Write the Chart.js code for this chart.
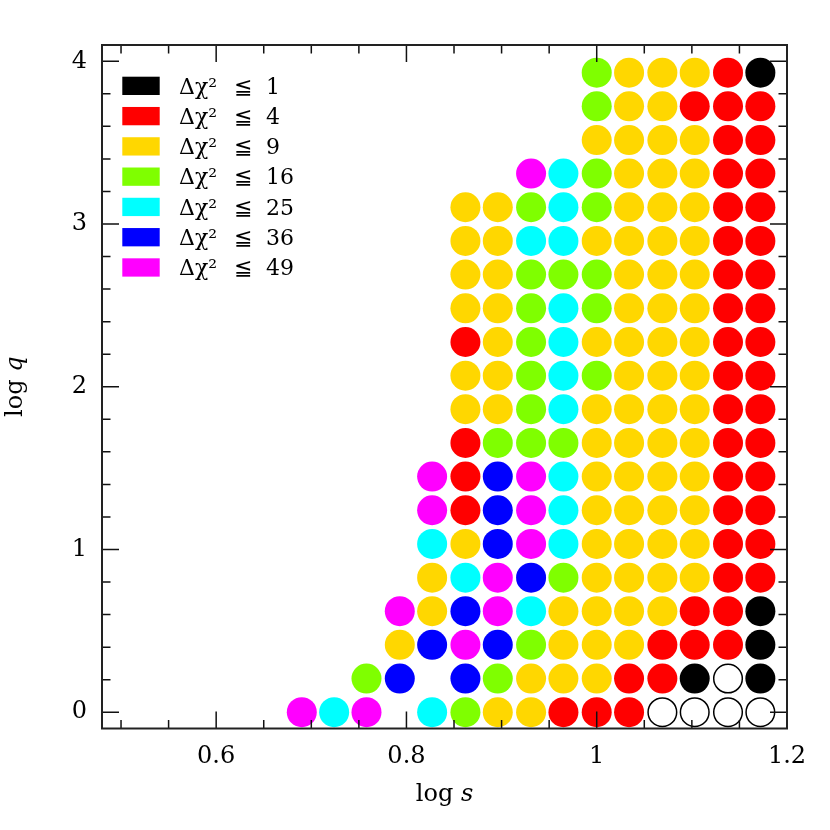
<!DOCTYPE html>
<html><head><meta charset="utf-8">
<script src="https://cdn.jsdelivr.net/npm/chart.js@4.4.1/dist/chart.umd.min.js"></script>
<style>html,body{margin:0;padding:0;background:#fff}canvas{display:block}</style>
</head><body>
<canvas id="c" width="830" height="830"></canvas>
<script>
// grid coordinates
const logS = [0.690, 0.724, 0.758, 0.793, 0.827, 0.862, 0.896, 0.931, 0.965, 1.000, 1.034, 1.069, 1.103, 1.138, 1.172];
const logQ = [0.000, 0.207, 0.414, 0.621, 0.827, 1.034, 1.241, 1.448, 1.655, 1.862, 2.068, 2.275, 2.482, 2.689, 2.896, 3.103, 3.310, 3.516, 3.723, 3.930];
// level code per cell, row 0 = lowest log q; K<=1 R<=4 Y<=9 G<=16 C<=25 B<=36 M<=49 O=open, '.'=none
const gridRows = [
  "MCM.CGYYRRROOOO",
  "..GB.BGYYYRRKOK",
  "...YBMBGYYYRRRK",
  "...MYBMCYYYYRRK",
  "....YCMBGYYYYRR",
  "....CYBMCYYYYRR",
  "....MRBMCYYYYRR",
  "....MRBMCYYYYRR",
  ".....RGGGYYYYRR",
  ".....YYGCYYYYRR",
  ".....YYGCGYYYRR",
  ".....RYGCYYYYRR",
  ".....YYGCGYYYRR",
  ".....YYGGGYYYRR",
  ".....YYCCYYYYRR",
  ".....YYGCGYYYRR",
  ".......MCGYYYRR",
  ".........YYYYRR",
  ".........GYYRRR",
  ".........GYYYRK"
];
const levelCodes  = ['K', 'R', 'Y', 'G', 'C', 'B', 'M', 'O'];
const levelLabels = ['1', '4', '9', '16', '25', '36', '49', ''];
const levelColors = ['#000000', '#ff0000', '#ffd700', '#7fff00', '#00ffff', '#0000ff', '#ff00ff', '#ffffff'];
const xTickValues = [0.6, 0.8, 1.0, 1.2];
const xTickLabels = ['0.6', '0.8', '1', '1.2'];
const yTickValues = [0, 1, 2, 3, 4];
const yTickLabels = ['0', '1', '2', '3', '4'];

const SERIF = '"DejaVu Serif", "Liberation Serif", serif';

const datasets = levelCodes.map((code, k) => {
  const pts = [];
  gridRows.forEach((row, r) => {
    for (let c = 0; c < row.length; c++) {
      if (row[c] === code) pts.push({ x: logS[c], y: logQ[r] });
    }
  });
  const open = code === 'O';
  return {
    label: open ? 'open' : 'Δχ² ≦ ' + levelLabels[k],
    data: pts,
    backgroundColor: levelColors[k],
    borderColor: open ? '#000000' : levelColors[k],
    borderWidth: open ? 1.5 : 0,
    pointRadius: open ? 14.3 : 15,
    pointHoverRadius: open ? 14.3 : 15,
    pointStyle: 'circle'
  };
});

const framePlugin = {
  id: 'frame',
  afterDraw(chart) {
    const ctx = chart.ctx;
    const a = chart.chartArea;
    const xs = chart.scales.x, ys = chart.scales.y;
    ctx.save();
    ctx.strokeStyle = '#111';
    ctx.lineWidth = 1.5;
    // ticks
    const major = 17, minor = 8.5;
    const xMinor = [];
    for (let v = 0.5; v < 1.2 - 1e-9; v += 0.05) xMinor.push(+v.toFixed(2));
    const yMinor = [];
    for (let v = 0.2; v < 4.1; v += 0.2) yMinor.push(+v.toFixed(1));
    ctx.beginPath();
    const isMajor = (v, arr) => arr.some(m => Math.abs(m - v) < 1e-6);
    xMinor.forEach(v => {
      if (isMajor(v, xTickValues)) return;
      const p = xs.getPixelForValue(v);
      ctx.moveTo(p, a.bottom); ctx.lineTo(p, a.bottom - minor);
      ctx.moveTo(p, a.top); ctx.lineTo(p, a.top + minor);
    });
    xTickValues.forEach(v => {
      const p = xs.getPixelForValue(v);
      ctx.moveTo(p, a.bottom); ctx.lineTo(p, a.bottom - major);
      ctx.moveTo(p, a.top); ctx.lineTo(p, a.top + major);
    });
    yMinor.forEach(v => {
      if (isMajor(v, yTickValues)) return;
      const p = ys.getPixelForValue(v);
      ctx.moveTo(a.left, p); ctx.lineTo(a.left + minor, p);
      ctx.moveTo(a.right, p); ctx.lineTo(a.right - minor, p);
    });
    yTickValues.forEach(v => {
      const p = ys.getPixelForValue(v);
      ctx.moveTo(a.left, p); ctx.lineTo(a.left + major, p);
      ctx.moveTo(a.right, p); ctx.lineTo(a.right - major, p);
    });
    ctx.stroke();
    // frame
    ctx.lineWidth = 2;
    ctx.strokeStyle = '#222';
    ctx.strokeRect(a.left, a.top, a.right - a.left, a.bottom - a.top);

    // legend
    ctx.textBaseline = 'alphabetic';
    ctx.textAlign = 'left';
    for (let i = 0; i < 7; i++) {
      const top = 76.7 + i * 30.27;
      ctx.fillStyle = levelColors[i];
      ctx.fillRect(122.3, top, 37.4, 18.3);
      ctx.fillStyle = '#000';
      ctx.font = '22px ' + SERIF;
      const base = top + 16.8;
      ctx.fillText('Δχ²', 179, base);
      ctx.fillText('≦', 234, base);
      ctx.fillText(levelLabels[i], 266, base);
    }

    // axis titles
    ctx.fillStyle = '#000';
    ctx.textAlign = 'left';
    const drawTitle = (x, y, rot, plain, ital) => {
      ctx.save();
      ctx.translate(x, y);
      ctx.rotate(rot);
      ctx.font = '24px ' + SERIF;
      const w1 = ctx.measureText(plain).width;
      ctx.font = 'italic 24px ' + SERIF;
      const w2 = ctx.measureText(ital).width;
      const start = -(w1 + w2) / 2;
      ctx.font = '24px ' + SERIF;
      ctx.fillText(plain, start, 0);
      ctx.font = 'italic 24px ' + SERIF;
      ctx.fillText(ital, start + w1, 0);
      ctx.restore();
    };
    drawTitle((a.left + a.right) / 2, 801, 0, 'log ', 's');
    drawTitle(22, (a.top + a.bottom) / 2, -Math.PI / 2, 'log ', 'q');
    ctx.restore();
  }
};

new Chart(document.getElementById('c'), {
  type: 'scatter',
  data: { datasets },
  options: {
    responsive: false,
    animation: false,
    events: [],
    layout: { padding: { left: 0, top: 45, right: 43, bottom: 0 } },
    plugins: { legend: { display: false }, tooltip: { enabled: false }, title: { display: false } },
    scales: {
      x: {
        type: 'linear', min: 0.48, max: 1.2,
        afterBuildTicks: s => { s.ticks = xTickValues.map(v => ({ value: v })); },
        afterFit: s => { s.height = 101.5; },
        grid: { display: false, drawTicks: false },
        border: { display: false },
        ticks: {
          autoSkip: false, maxRotation: 0, padding: 14, color: '#000',
          font: { family: SERIF, size: 24 },
          callback: (v, i) => xTickLabels[i]
        }
      },
      y: {
        type: 'linear', min: -0.1, max: 4.1,
        afterBuildTicks: s => { s.ticks = yTickValues.map(v => ({ value: v })); },
        afterFit: s => { s.width = 102; },
        grid: { display: false, drawTicks: false },
        border: { display: false },
        ticks: {
          autoSkip: false, padding: 15, color: '#000',
          font: { family: SERIF, size: 24 },
          callback: (v, i) => yTickLabels[i]
        }
      }
    }
  },
  plugins: [framePlugin]
});
</script>
</body></html>
